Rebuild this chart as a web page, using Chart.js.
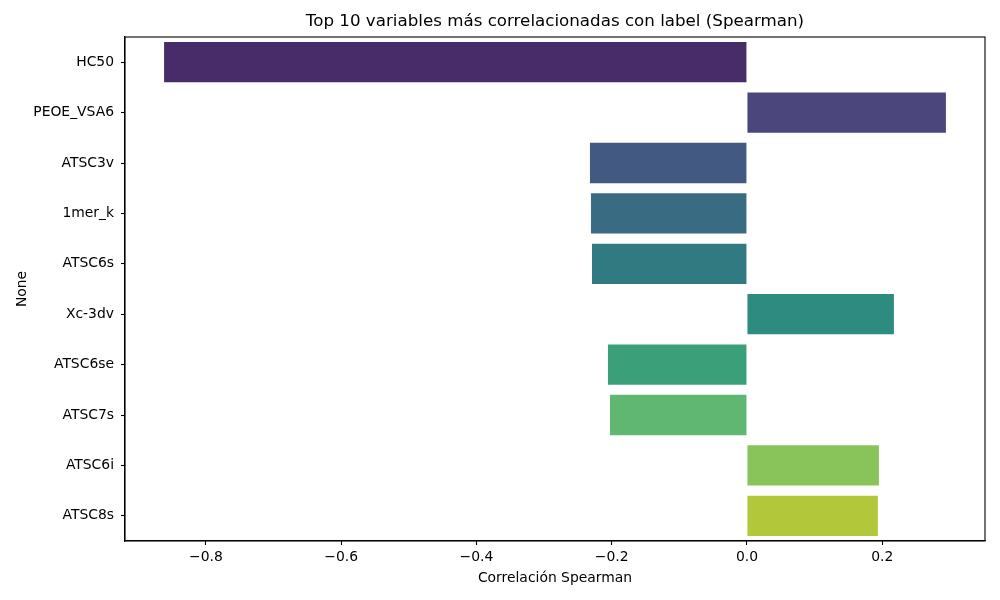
<!DOCTYPE html>
<html>
<head>
<meta charset="utf-8">
<script src="https://cdn.jsdelivr.net/npm/chart.js@4"></script>
<style>
html,body{margin:0;padding:0;background:#fff;}
#wrap{width:1000px;height:600px;position:relative;}
</style>
</head>
<body>
<div id="wrap"><canvas id="c"></canvas></div>
<script>
const categories = ['HC50','PEOE_VSA6','ATSC3v','1mer_k','ATSC6s','Xc-3dv','ATSC6se','ATSC7s','ATSC6i','ATSC8s'];
const correlations = [-0.8618, 0.2942, -0.2321, -0.2306, -0.2291, 0.2173, -0.2055, -0.2025, 0.1951, 0.1936];
const barColors = ['#482b69','#4b477c','#425a82','#396b82','#327a81','#2e8b7f','#3b9f7a','#60b772','#88c45a','#b2c83a'];
const xTicks = [-0.8, -0.6, -0.4, -0.2, 0.0, 0.2];
const chartTitle = 'Top 10 variables más correlacionadas con label (Spearman)';

const FONT = "'DejaVu Sans', sans-serif";

const frame = {
  id: 'frame',
  afterDraw(chart) {
    const a = chart.chartArea, ctx = chart.ctx;
    ctx.save();
    ctx.strokeStyle = '#000';
    ctx.lineWidth = 1.1;
    ctx.strokeRect(a.left, a.top, a.right - a.left, a.bottom - a.top);
    ctx.fillStyle = '#000';
    ctx.font = "16.7px " + FONT;
    ctx.textAlign = 'center';
    ctx.textBaseline = 'middle';
    ctx.fillText(chartTitle, (a.left + a.right) / 2, 22);
    ctx.restore();
  }
};

new Chart(document.getElementById('c'), {
  type: 'bar',
  data: {
    labels: categories,
    datasets: [{
      data: correlations,
      backgroundColor: barColors,
      borderWidth: 0,
      barPercentage: 0.8,
      categoryPercentage: 1.0
    }]
  },
  options: {
    indexAxis: 'y',
    responsive: true,
    maintainAspectRatio: false,
    animation: false,
    devicePixelRatio: 1,
    layout: { padding: { top: 37, right: 15, bottom: 0, left: 0 } },
    plugins: {
      legend: { display: false },
      tooltip: { enabled: false },
      title: { display: false }
    },
    scales: {
      x: {
        type: 'linear',
        min: -0.9196,
        max: 0.352,
        afterBuildTicks(scale) { scale.ticks = xTicks.map(v => ({ value: v })); },
        afterFit(scale) { scale.height = 59; },
        grid: { drawOnChartArea: false, drawTicks: true, tickLength: 4, tickColor: '#000', tickWidth: 1.1 },
        border: { display: true, color: '#000', width: 1.1 },
        ticks: {
          color: '#000',
          padding: 4,
          maxRotation: 0,
          autoSkip: false,
          font: { family: FONT, size: 13.9 },
          callback(v) { return Number(v).toFixed(1).replace('-', '\u2212'); }
        },
        title: {
          display: true,
          text: 'Correlación Spearman',
          color: '#000',
          font: { family: FONT, size: 13.9, lineHeight: 1.2 },
          padding: { top: 4, bottom: 13 }
        }
      },
      y: {
        type: 'category',
        afterFit(scale) { scale.width = 125; },
        grid: { drawOnChartArea: false, drawTicks: true, tickLength: 4, tickColor: '#000', tickWidth: 1.1, offset: false },
        border: { display: true, color: '#000', width: 1.1 },
        ticks: {
          color: '#000',
          padding: 7,
          autoSkip: false,
          font: { family: FONT, size: 13.9 }
        },
        title: {
          display: true,
          text: 'None',
          color: '#000',
          font: { family: FONT, size: 13.9, lineHeight: 1.2 },
          padding: { top: 14, bottom: 0 }
        }
      }
    }
  },
  plugins: [frame]
});
</script>
</body>
</html>
